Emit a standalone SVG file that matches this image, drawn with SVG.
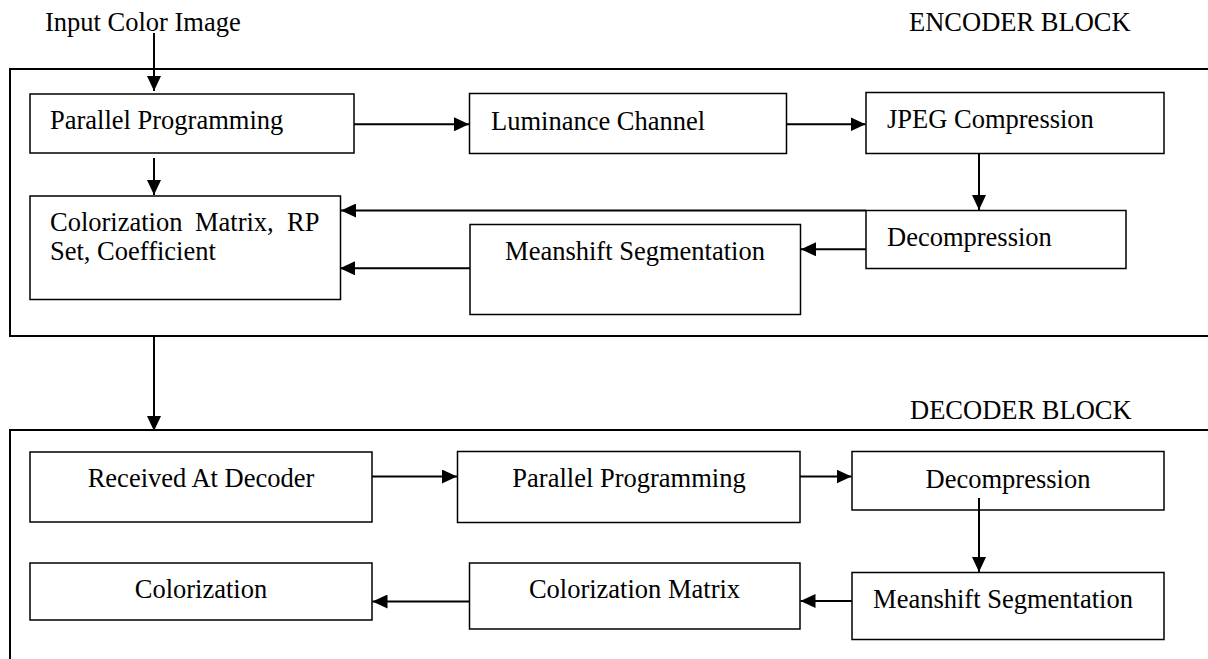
<svg xmlns="http://www.w3.org/2000/svg" width="1208" height="659" viewBox="0 0 1208 659">
<style>
text{font-family:"Liberation Serif","Times New Roman",serif;font-size:26.5px;fill:#000}
.box{fill:#fff;stroke:#000;stroke-width:1.5}
.outer{fill:none;stroke:#000;stroke-width:2}
.c{text-anchor:middle}
.conn path{fill:none;stroke:#000;stroke-width:2;marker-end:url(#ah)}
</style>
<defs>
<marker id="ah" viewBox="0 0 15 14" refX="15" refY="7" markerWidth="15" markerHeight="14" markerUnits="userSpaceOnUse" orient="auto">
<path d="M0,0 L15,7 L0,14 z" fill="#000"/>
</marker>
</defs>
<rect width="1208" height="659" fill="#fff"/>

<g id="encoder-block">
<rect class="outer" x="10" y="69" width="1220" height="267"/>
<text x="909" y="31">ENCODER BLOCK</text>
</g>
<g id="decoder-block">
<rect class="outer" x="10" y="430" width="1220" height="260"/>
<text x="910" y="419">DECODER BLOCK</text>
</g>
<g id="input-label">
<text x="45" y="31">Input Color Image</text>
</g>

<g id="enc-parallel">
<rect class="box" x="30" y="94" width="324" height="59"/>
<text x="50" y="129">Parallel Programming</text>
</g>
<g id="enc-luminance">
<rect class="box" x="469.5" y="93.5" width="317" height="60"/>
<text x="491" y="130">Luminance Channel</text>
</g>
<g id="enc-jpeg">
<rect class="box" x="866" y="92.5" width="298" height="61"/>
<text x="887" y="128">JPEG Compression</text>
</g>
<g id="enc-colorization-matrix">
<rect class="box" x="30" y="196" width="310.5" height="103.5"/>
<text y="231"><tspan x="50">Colorization</tspan><tspan x="195">Matrix,</tspan><tspan x="287">RP</tspan></text>
<text x="50" y="260">Set, Coefficient</text>
</g>
<g id="enc-decompression">
<rect class="box" x="866" y="210.5" width="260" height="58"/>
<text x="887" y="246">Decompression</text>
</g>
<g id="enc-meanshift">
<rect class="box" x="470" y="224.5" width="330.5" height="90"/>
<text class="c" x="635" y="260">Meanshift Segmentation</text>
</g>

<g id="dec-received">
<rect class="box" x="30" y="452" width="342" height="70"/>
<text class="c" x="201" y="487">Received At Decoder</text>
</g>
<g id="dec-parallel">
<rect class="box" x="457.5" y="451.5" width="342.5" height="71"/>
<text class="c" x="629" y="487">Parallel Programming</text>
</g>
<g id="dec-decompression">
<rect class="box" x="852" y="451.5" width="312" height="58.5"/>
<text class="c" x="1008" y="488">Decompression</text>
</g>
<g id="dec-colorization">
<rect class="box" x="30" y="563" width="342" height="57"/>
<text class="c" x="201" y="598">Colorization</text>
</g>
<g id="dec-colorization-matrix">
<rect class="box" x="469.5" y="563" width="330.5" height="66"/>
<text class="c" x="634.5" y="598">Colorization Matrix</text>
</g>
<g id="dec-meanshift">
<rect class="box" x="852" y="572.5" width="312" height="67"/>
<text class="c" x="1003" y="608">Meanshift Segmentation</text>
</g>

<g id="connectors" class="conn">
<path d="M154,33 V91"/>
<path d="M154,158 V195"/>
<path d="M354,124.3 H469"/>
<path d="M787,124.3 H865.5"/>
<path d="M979,153.5 V210"/>
<path d="M866,210.5 H341"/>
<path d="M866,249.3 H801"/>
<path d="M470,268.3 H340"/>
<path d="M154,336 V431"/>
<path d="M372,476.5 H457"/>
<path d="M800,476.5 H851.5"/>
<path d="M979,498 V572"/>
<path d="M852,601 H800.5"/>
<path d="M469.5,601.5 H372.5"/>
</g>
</svg>
